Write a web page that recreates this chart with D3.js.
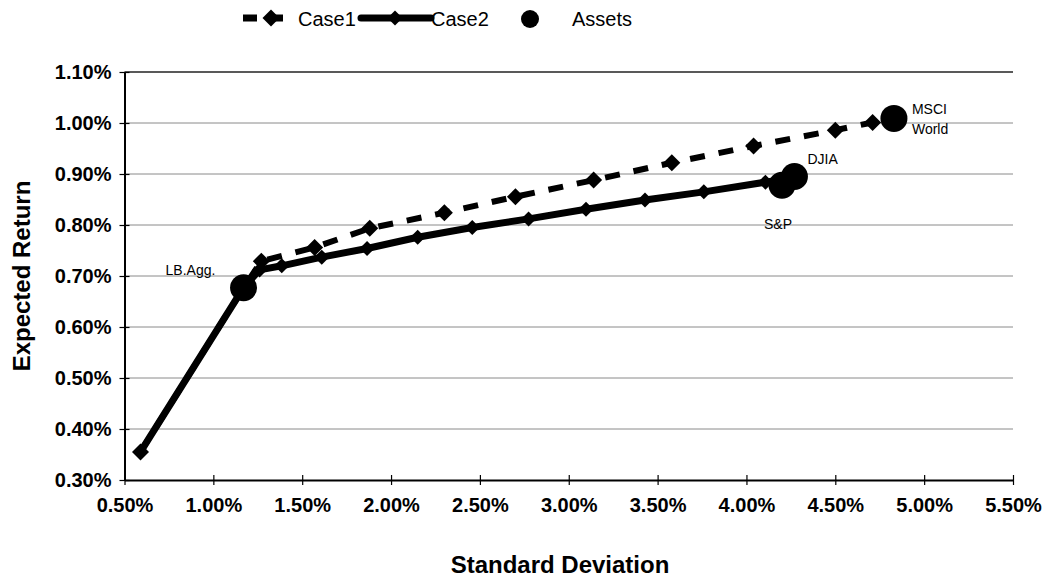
<!DOCTYPE html>
<html>
<head>
<meta charset="utf-8">
<script src="https://cdn.jsdelivr.net/npm/d3@7/dist/d3.min.js"></script>
<style>
  html, body { margin: 0; padding: 0; background: #fff; }
  svg { display: block; font-family: "Liberation Sans", Arial, Helvetica, sans-serif; }
</style>
</head>
<body>
<svg id="chart" width="1046" height="581"></svg>
<script>
// Efficient frontiers: standard deviation (%) vs expected return (%)
const case1SD  = [0.59, 1.17, 1.27, 1.57, 1.88, 2.30, 2.70, 3.14, 3.58, 4.04, 4.50, 4.71, 4.83];
const case1Ret = [0.355, 0.677, 0.729, 0.756, 0.7935, 0.824, 0.8555, 0.888, 0.922, 0.955, 0.986, 1.001, 1.009];

const case2SD  = [0.59, 1.17, 1.26, 1.385, 1.61, 1.865, 2.15, 2.457, 2.774, 3.097, 3.429, 3.76, 4.107, 4.27];
const case2Ret = [0.355, 0.677, 0.712, 0.72, 0.737, 0.754, 0.776, 0.795, 0.812, 0.831, 0.849, 0.865, 0.884, 0.893];

const assetNames = ["LB.Agg.", "S&P", "DJIA", "MSCI World"];
const assetSD    = [1.17, 4.20, 4.27, 4.83];
const assetRet   = [0.677, 0.878, 0.895, 1.009];

const sdTicks  = [0.5, 1.0, 1.5, 2.0, 2.5, 3.0, 3.5, 4.0, 4.5, 5.0, 5.5];
const retTicks = [0.3, 0.4, 0.5, 0.6, 0.7, 0.8, 0.9, 1.0, 1.1];

const svg = d3.select("#chart");
const plot = { left: 124.5, right: 1013, top: 72, bottom: 480 };

const x = d3.scaleLinear().domain([0.5, 5.5]).range([plot.left, plot.right]);
const y = d3.scaleLinear().domain([0.3, 1.1]).range([plot.bottom, plot.top]);
const pct = v => d3.format(".2f")(v) + "%";

// horizontal gridlines
svg.append("g").selectAll("line")
  .data(retTicks.slice(1))
  .join("line")
  .attr("x1", plot.left).attr("x2", plot.right)
  .attr("y1", d => y(d)).attr("y2", d => y(d))
  .attr("stroke", d => d === 1.1 ? "#222" : "#8a8a8a")
  .attr("stroke-width", d => d === 1.1 ? 1.5 : 1);

// axes with ticks crossing the axis line
function styleAxis(g) {
  g.select(".domain").attr("stroke", "#000").attr("stroke-width", 2);
  g.selectAll(".tick line").attr("stroke", "#000").attr("stroke-width", 1.2);
  g.selectAll(".tick text")
    .attr("font-size", 20).attr("font-weight", "bold").attr("fill", "#000");
}

const xAxis = svg.append("g")
  .attr("transform", `translate(0,${plot.bottom})`)
  .call(d3.axisBottom(x).tickValues(sdTicks).tickFormat(pct).tickSizeInner(5).tickSizeOuter(0).tickPadding(13));
xAxis.selectAll(".tick line").attr("y1", -5);
styleAxis(xAxis);

const yAxis = svg.append("g")
  .attr("transform", `translate(${plot.left},0)`)
  .call(d3.axisLeft(y).tickValues(retTicks).tickFormat(pct).tickSizeInner(5).tickSizeOuter(0).tickPadding(8));
yAxis.selectAll(".tick line").attr("x1", 5);
styleAxis(yAxis);

// axis titles
svg.append("text")
  .attr("x", 560).attr("y", 573)
  .attr("text-anchor", "middle")
  .attr("font-size", 24).attr("font-weight", "bold")
  .text("Standard Deviation");

svg.append("text")
  .attr("transform", `translate(30,${(plot.top + plot.bottom) / 2}) rotate(-90)`)
  .attr("text-anchor", "middle")
  .attr("font-size", 24).attr("font-weight", "bold")
  .text("Expected Return");

const diamond = h => d3.symbol().type(d3.symbolSquare).size(2 * h * h)();

const case1 = case1SD.map((s, i) => [s, case1Ret[i]]);
const case2 = case2SD.map((s, i) => [s, case2Ret[i]]);
const line = d3.line().x(d => x(d[0])).y(d => y(d[1]));

// Case1: dashed frontier
svg.append("path")
  .datum(case1)
  .attr("d", line)
  .attr("fill", "none").attr("stroke", "#000")
  .attr("stroke-width", 6).attr("stroke-dasharray", "15,14");
svg.append("g").selectAll("path")
  .data(case1.slice(0, case1.length - 1))
  .join("path")
  .attr("d", diamond(8.5))
  .attr("transform", d => `translate(${x(d[0])},${y(d[1])}) rotate(45)`)
  .attr("fill", "#000");

// Case2: solid frontier
svg.append("path")
  .datum(case2)
  .attr("d", line)
  .attr("fill", "none").attr("stroke", "#000")
  .attr("stroke-width", 7).attr("stroke-linejoin", "round");
svg.append("g").selectAll("path")
  .data(case2)
  .join("path")
  .attr("d", diamond(7.5))
  .attr("transform", d => `translate(${x(d[0])},${y(d[1])}) rotate(45)`)
  .attr("fill", "#000");

// Individual assets
const assets = assetNames.map((n, i) => ({ name: n, sd: assetSD[i], ret: assetRet[i] }));
svg.append("g").selectAll("circle")
  .data(assets)
  .join("circle")
  .attr("cx", d => x(d.sd)).attr("cy", d => y(d.ret))
  .attr("r", 13.5).attr("fill", "#000");

// asset labels, offset from each marker
const labelOffset = {
  "LB.Agg.":    { dx: -78, dy: -18, anchor: "start" },
  "S&P":        { dx: -4,  dy: 39,  anchor: "middle" },
  "DJIA":       { dx: 13,  dy: -18, anchor: "start" },
  "MSCI World": { dx: 18,  dy: -9,  anchor: "start" }
};
assets.forEach(a => {
  const o = labelOffset[a.name];
  const t = svg.append("text")
    .attr("x", x(a.sd) + o.dx).attr("y", y(a.ret) + o.dy)
    .attr("text-anchor", o.anchor)
    .attr("dominant-baseline", "central")
    .attr("font-size", 14).attr("fill", "#000");
  const words = a.name === "MSCI World" ? ["MSCI", "World"] : [a.name];
  words.forEach((w, i) => {
    t.append("tspan").attr("x", x(a.sd) + o.dx).attr("dy", i === 0 ? 0 : 20).text(w);
  });
});

// legend
const lg = svg.append("g").attr("font-size", 20);
const ly = 18;
lg.append("line").attr("x1", 243).attr("x2", 293).attr("y1", ly).attr("y2", ly)
  .attr("stroke", "#000").attr("stroke-width", 7).attr("stroke-dasharray", "14,12");
lg.append("path").attr("d", diamond(8.5)).attr("transform", `translate(271,${ly}) rotate(45)`);
lg.append("text").attr("x", 298).attr("y", ly + 1).attr("dominant-baseline", "central").text("Case1");
lg.append("line").attr("x1", 361).attr("x2", 431).attr("y1", ly).attr("y2", ly)
  .attr("stroke", "#000").attr("stroke-width", 7).attr("stroke-linecap", "round");
lg.append("path").attr("d", diamond(7.5)).attr("transform", `translate(395,${ly}) rotate(45)`);
lg.append("text").attr("x", 431).attr("y", ly + 1).attr("dominant-baseline", "central").text("Case2");
lg.append("circle").attr("cx", 530).attr("cy", ly + 1).attr("r", 9);
lg.append("text").attr("x", 572).attr("y", ly + 1).attr("dominant-baseline", "central").text("Assets");
</script>
</body>
</html>
